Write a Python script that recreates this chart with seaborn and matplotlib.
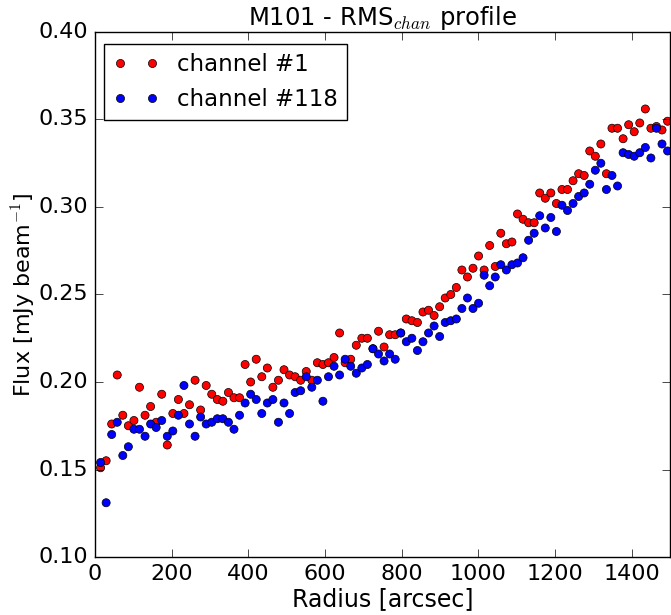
import numpy as np
import pandas as pd
import matplotlib
matplotlib.use("Agg")
import matplotlib.pyplot as plt
import seaborn as sns

plt.style.use("classic")

radius = [14.5, 29, 43.5, 58, 72.5, 87, 101.5, 116, 130.5, 145,
          159.5, 174, 188.5, 203, 217.5, 232, 246.5, 261, 275.5, 290,
          304.5, 319, 333.5, 348, 362.5, 377, 391.5, 406, 420.5, 435,
          449.5, 464, 478.5, 493, 507.5, 522, 536.5, 551, 565.5, 580,
          594.5, 609, 623.5, 638, 652.5, 667, 681.5, 696, 710.5, 725,
          739.5, 754, 768.5, 783, 797.5, 812, 826.5, 841, 855.5, 870,
          884.5, 899, 913.5, 928, 942.5, 957, 971.5, 986, 1000.5, 1015,
          1029.5, 1044, 1058.5, 1073, 1087.5, 1102, 1116.5, 1131, 1145.5, 1160,
          1174.5, 1189, 1203.5, 1218, 1232.5, 1247, 1261.5, 1276, 1290.5, 1305,
          1319.5, 1334, 1348.5, 1363, 1377.5, 1392, 1406.5, 1421, 1435.5, 1450,
          1464.5, 1479, 1493.5]

flux_ch1 = [0.151, 0.155, 0.176, 0.204, 0.181, 0.175, 0.178, 0.197, 0.181, 0.186,
            0.177, 0.193, 0.164, 0.182, 0.190, 0.182, 0.187, 0.201, 0.184, 0.198,
            0.193, 0.190, 0.189, 0.194, 0.191, 0.191, 0.210, 0.200, 0.213, 0.203,
            0.208, 0.197, 0.201, 0.207, 0.204, 0.203, 0.201, 0.206, 0.201, 0.211,
            0.210, 0.211, 0.214, 0.228, 0.211, 0.213, 0.221, 0.225, 0.225, 0.219,
            0.229, 0.220, 0.227, 0.227, 0.228, 0.236, 0.235, 0.234, 0.240, 0.241,
            0.238, 0.243, 0.248, 0.250, 0.254, 0.264, 0.260, 0.265, 0.272, 0.264,
            0.278, 0.266, 0.285, 0.279, 0.280, 0.296, 0.293, 0.291, 0.291, 0.308,
            0.305, 0.308, 0.302, 0.310, 0.310, 0.315, 0.319, 0.318, 0.332, 0.329,
            0.336, 0.319, 0.345, 0.345, 0.339, 0.347, 0.343, 0.348, 0.356, 0.345,
            0.346, 0.344, 0.349]

flux_ch118 = [0.154, 0.131, 0.170, 0.177, 0.158, 0.163, 0.173, 0.173, 0.169, 0.176,
              0.174, 0.178, 0.169, 0.172, 0.181, 0.198, 0.176, 0.169, 0.180, 0.176,
              0.177, 0.179, 0.179, 0.177, 0.173, 0.181, 0.188, 0.193, 0.190, 0.182,
              0.188, 0.190, 0.177, 0.188, 0.182, 0.194, 0.195, 0.203, 0.197, 0.201,
              0.189, 0.203, 0.209, 0.204, 0.213, 0.209, 0.205, 0.208, 0.210, 0.219,
              0.216, 0.212, 0.216, 0.213, 0.228, 0.223, 0.225, 0.218, 0.223, 0.228,
              0.232, 0.226, 0.234, 0.235, 0.236, 0.242, 0.248, 0.242, 0.245, 0.261,
              0.255, 0.260, 0.267, 0.264, 0.267, 0.268, 0.271, 0.281, 0.285, 0.295,
              0.288, 0.294, 0.286, 0.301, 0.298, 0.302, 0.306, 0.308, 0.313, 0.321,
              0.325, 0.310, 0.318, 0.312, 0.331, 0.330, 0.329, 0.331, 0.334, 0.328,
              0.345, 0.336, 0.332]

labels = ["channel #1", "channel #118"]
colors = ["red", "blue"]

df = pd.concat([
    pd.DataFrame({"radius": radius, "flux": flux_ch1, "channel": labels[0]}),
    pd.DataFrame({"radius": radius, "flux": flux_ch118, "channel": labels[1]}),
], ignore_index=True)

fig = plt.figure(figsize=(6.71, 6.15), dpi=100, facecolor="white")
ax = fig.add_axes([0.1416, 0.0943, 0.8570, 0.8537])

sns.scatterplot(data=df, x="radius", y="flux", hue="channel",
                palette=dict(zip(labels, colors)), s=34, edgecolor="black",
                linewidth=0.5, ax=ax, legend=True)

ax.set_xlim(0, 1500)
ax.set_ylim(0.10, 0.40)
ax.set_xticks([0, 200, 400, 600, 800, 1000, 1200, 1400])
ax.set_yticks([0.10, 0.15, 0.20, 0.25, 0.30, 0.35, 0.40])
ax.set_yticklabels([f"{v:.2f}" for v in [0.10, 0.15, 0.20, 0.25, 0.30, 0.35, 0.40]])
ax.tick_params(direction="in", top=True, right=True, labelsize=16, length=6, pad=5)
ax.tick_params(which="minor", bottom=False, top=False, left=False, right=False)

ax.set_xlabel("Radius [arcsec]", fontsize=17, labelpad=2)
ax.set_ylabel("Flux [mJy beam$^{-1}$]", fontsize=16, labelpad=0)
ax.set_title("M101 - RMS$_{chan}$ profile", fontsize=17.5)

handles, lbls = ax.get_legend_handles_labels()
leg = ax.legend(handles, lbls, loc="upper left", numpoints=2, scatterpoints=2,
                fontsize=16.5, frameon=True, fancybox=False, markerscale=1.0,
                bbox_to_anchor=(9 / 575, 1 - 12 / 525), borderaxespad=0,
                handletextpad=0.8, borderpad=0.4, handlelength=2.0)
leg.get_frame().set_edgecolor("black")
leg.get_frame().set_linewidth(1.0)

fig.savefig("out.png", dpi=100, facecolor="white")
